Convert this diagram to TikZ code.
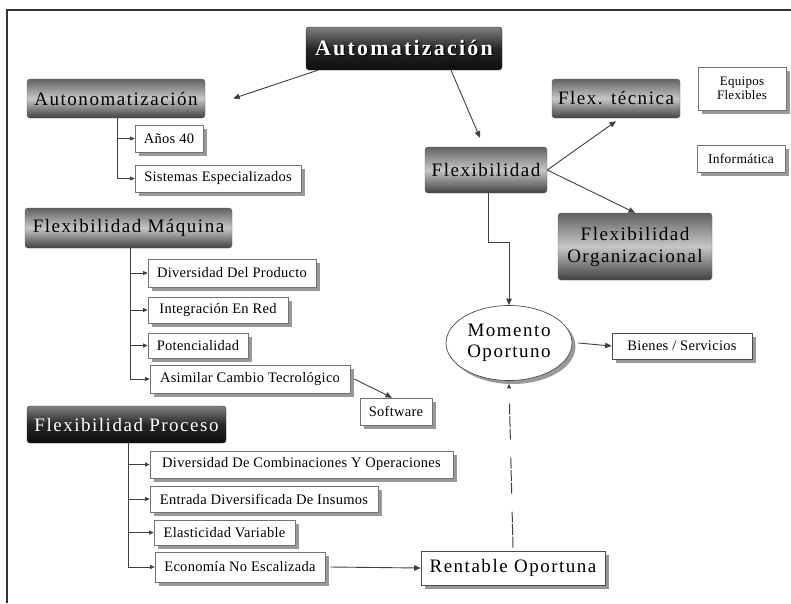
\documentclass[tikz,border=0pt]{standalone}
\usepackage{fontspec}
\setmainfont{Liberation Serif}
\newfontfamily\headfont[LetterSpace=8]{Liberation Serif}
\newfontfamily\titlefont[LetterSpace=10]{Liberation Serif}
\newfontfamily\boxfont[LetterSpace=2]{Liberation Serif}
\usetikzlibrary{shadows,arrows.meta,shapes.geometric}

% white lettering with a dark drop copy behind it
\newcommand\shadetext[1]{\leavevmode\rlap{\kern1.2pt\raisebox{-1.2pt}{\color{black}#1}}#1}

\tikzset{
  linecol/.style={draw=black!75},
  tip/.style={-{Triangle[length=6.5pt,width=5.5pt]}},
  smalltip/.style={-{Triangle[length=4.5pt,width=4pt]}},
  graybox/.style={rectangle, rounded corners=3pt, draw=black!60, line width=0.4pt,
    top color=black!62, bottom color=black!75, middle color=black!22,
    inner sep=0pt, align=center,
    font=\headfont\fontsize{19}{22}\selectfont},
  darkbox/.style={rectangle, rounded corners=3pt, draw=black!80, line width=0.4pt,
    top color=black!50, bottom color=black!95, middle color=black!85,
    inner sep=0pt, align=center, text=white,
    font=\headfont\fontsize{19}{22}\selectfont},
  leaf/.style={rectangle, draw=black!55, line width=0.7pt, fill=white,
    inner sep=0pt, align=center,
    drop shadow={shadow xshift=3.5pt, shadow yshift=-3.5pt, fill=black!40, opacity=1},
    font=\boxfont\fontsize{14.5}{15}\selectfont},
  conn/.style={linecol, line width=0.9pt, tip},
  branch/.style={linecol, line width=0.9pt, smalltip},
}

\begin{document}
\begin{tikzpicture}[x=1pt,y=-1pt]
\useasboundingbox (0,0) rectangle (791,603);

% outer frame (open on the right and at the bottom)
\draw[black!80, line width=1.2pt] (791,10) -- (7,10) -- (7,603);

% main headings
\node[darkbox, minimum width=196pt, minimum height=43pt,
      font=\titlefont\bfseries\fontsize{22}{24}\selectfont] (top) at (404,48.5) {\shadetext{Automatización}};
\node[graybox, minimum width=178pt, minimum height=39pt] (auto) at (116,98.5) {Autonomatización};
\node[graybox, minimum width=128pt, minimum height=39pt] (ft) at (616,98.5) {Flex. técnica};
\node[graybox, minimum width=122pt, minimum height=46pt] (flex) at (486,170) {Flexibilidad};
\node[graybox, minimum width=154pt, minimum height=67pt] (org) at (635,246.5) {Flexibilidad\\Organizacional};
\node[graybox, minimum width=207pt, minimum height=40pt] (maq) at (128.5,228) {Flexibilidad Máquina};
\node[darkbox, minimum width=199pt, minimum height=37pt] (proc) at (126.5,424.5) {Flexibilidad Proceso};

% leaf boxes
\node[leaf, minimum width=68pt, minimum height=27pt] (anos) at (169,138.5) {Años 40};
\node[leaf, minimum width=166pt, minimum height=27pt] (sist) at (218,178.5) {Sistemas Especializados};
\node[leaf, minimum width=88pt, minimum height=43pt,
      font=\boxfont\fontsize{13}{14}\selectfont] (equipos) at (742,88.5) {Equipos\\Flexibles};
\node[leaf, minimum width=88pt, minimum height=27pt,
      font=\boxfont\fontsize{13.5}{14}\selectfont] (inf) at (741,158.5) {Informática};

\node[leaf, minimum width=168pt, minimum height=28pt] (div) at (232,273) {Diversidad Del Producto};
\node[leaf, minimum width=140pt, minimum height=26pt] (integ) at (218,310) {Integración En Red};
\node[leaf, minimum width=100pt, minimum height=25pt] (pot) at (198,345.5) {Potencialidad};
\node[leaf, minimum width=200pt, minimum height=28pt] (asim) at (250,379) {Asimilar Cambio Tecrológico};
\node[leaf, minimum width=72pt, minimum height=27pt] (soft) at (396,411.5) {Software};

\node[leaf, minimum width=303pt, minimum height=27pt] (comb) at (301.5,464.5) {Diversidad De Combinaciones Y Operaciones};
\node[leaf, minimum width=228pt, minimum height=26pt] (entr) at (264,499) {Entrada Diversificada De Insumos};
\node[leaf, minimum width=141pt, minimum height=25pt] (elas) at (224.5,532.5) {Elasticidad Variable};
\node[leaf, minimum width=170pt, minimum height=30pt] (eco) at (240,567) {Economía No Escalizada};

\node[leaf, minimum width=184pt, minimum height=34pt, draw=black!70,
      font=\headfont\fontsize{19}{21}\selectfont] (rent) at (513,568) {Rentable Oportuna};
\node[leaf, ellipse, minimum width=126pt, minimum height=75pt, draw=black!70,
      font=\headfont\fontsize{19}{21}\selectfont] (mom) at (509,343) {Momento\\Oportuno};
\node[leaf, minimum width=140pt, minimum height=26pt, draw=black!70] (bien) at (682,346) {Bienes / Servicios};

% connectors between the headings
\draw[conn] ([xshift=12pt]top.south west) -- ([xshift=28pt]auto.east);
\draw[conn] ([xshift=47pt]top.south) -- ([xshift=-6pt,yshift=9pt]flex.north);
\draw[conn] (flex.east) -- ([yshift=-3pt]ft.south);
\draw[conn] (flex.east) -- (org.north);
\draw[conn] ([xshift=2pt]flex.south) -- ++(0,49) -| (mom.north);
\draw[conn] ([xshift=6pt]mom.east) -- (bien.west);
\draw[conn] ([xshift=4pt]asim.east) -- ([xshift=-4pt]soft.north);
\draw[conn] ([xshift=5pt]eco.east) -- (rent.west);
\draw[linecol, line width=1pt, smalltip,
      dash pattern=on 11pt off 1.5pt on 11pt off 1.5pt on 11pt off 18pt]
  ([yshift=3pt]rent.north) -- ([yshift=-3pt]mom.south);

% branch trees
\draw[branch] ([xshift=1pt]auto.south) |- (anos.west);
\draw[branch] ([xshift=1pt]auto.south) |- (sist.west);

\draw[branch] ([xshift=1.5pt]maq.south) |- (div.west);
\draw[branch] ([xshift=1.5pt]maq.south) |- (integ.west);
\draw[branch] ([xshift=1.5pt]maq.south) |- (pot.west);
\draw[branch] ([xshift=1.5pt]maq.south) |- (asim.west);

\draw[branch] ([xshift=1.5pt]proc.south) |- (comb.west);
\draw[branch] ([xshift=1.5pt]proc.south) |- (entr.west);
\draw[branch] ([xshift=1.5pt]proc.south) |- (elas.west);
\draw[branch] ([xshift=1.5pt]proc.south) |- (eco.west);
\end{tikzpicture}
\end{document}
